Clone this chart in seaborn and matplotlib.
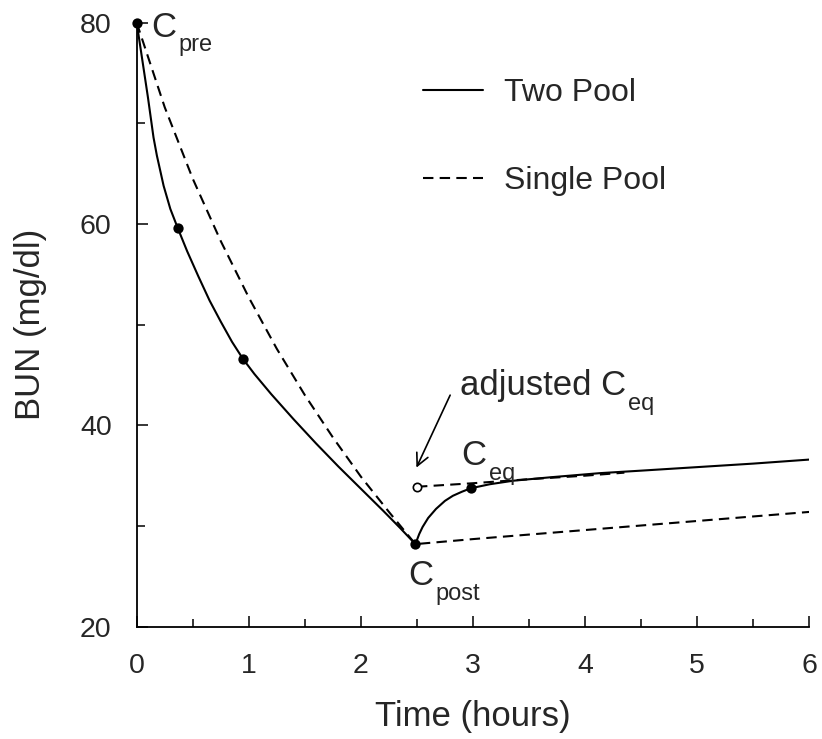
import matplotlib
matplotlib.use("Agg")
import matplotlib.pyplot as plt
import seaborn as sns
from matplotlib.lines import Line2D

# BUN durante e depois da diálise
two_pool_t = [0, 0.05, 0.10, 0.15, 0.18, 0.24, 0.30, 0.366, 0.45, 0.55, 0.65, 0.75, 0.85, 0.948,
              1.05, 1.2, 1.4, 1.6, 1.8, 2.0, 2.2, 2.35, 2.486,
              2.52, 2.55, 2.6, 2.67, 2.75, 2.82, 2.9, 2.98, 3.15, 3.36, 3.7, 4.13, 4.5, 5.0, 5.5, 6.0]
two_pool_bun = [80, 76.3, 72.6, 68.6, 66.8, 63.8, 61.5, 59.6, 57.3, 54.8, 52.4, 50.3, 48.3, 46.6,
                45.1, 43.1, 40.6, 38.2, 35.9, 33.7, 31.5, 29.8, 28.2,
                29.2, 29.9, 30.8, 31.7, 32.5, 33.0, 33.4, 33.75, 34.15, 34.5, 34.85, 35.25, 35.5, 35.85, 36.2, 36.6]

single_pool_t = [0, 0.25, 0.5, 0.75, 1.0, 1.25, 1.5, 1.75, 2.0, 2.25, 2.486,
                 3.0, 3.5, 4.0, 4.5, 5.0, 5.5, 6.0]
single_pool_bun = [80, 71.6, 64.5, 58.3, 52.7, 47.6, 43.0, 38.8, 34.9, 31.4, 28.2,
                   28.7, 29.15, 29.6, 30.05, 30.5, 30.95, 31.4]

adjusted_t = [2.5, 3.0, 3.5, 4.0, 4.35]
adjusted_bun = [33.9, 34.25, 34.65, 35.0, 35.3]

samples_t = [0, 0.366, 0.948, 2.486, 2.98]
samples_bun = [80, 59.6, 46.6, 28.2, 33.75]

adj_ceq_t = [2.5]
adj_ceq_bun = [33.9]

x_ticks = [0, 1, 2, 3, 4, 5, 6]
y_ticks = [20, 40, 60, 80]

sns.set_style("ticks")
plt.rcParams["font.family"] = ["Liberation Sans", "DejaVu Sans"]

dash = (0, (5, 3))

fig = plt.figure(figsize=(8.22, 7.39), dpi=100)
ax = fig.add_axes([0.1663, 0.152, 0.8183, 0.8173])

sns.lineplot(x=two_pool_t, y=two_pool_bun, ax=ax, color="k", lw=1.5, sort=False, estimator=None)
sns.lineplot(x=single_pool_t, y=single_pool_bun, ax=ax, color="k", lw=1.5, linestyle=dash,
             sort=False, estimator=None)
sns.lineplot(x=adjusted_t, y=adjusted_bun, ax=ax, color="k", lw=1.5, linestyle=dash,
             sort=False, estimator=None)

sns.scatterplot(x=samples_t, y=samples_bun, ax=ax, color="k", s=55, linewidth=0, zorder=5, clip_on=False)
sns.scatterplot(x=adj_ceq_t, y=adj_ceq_bun, ax=ax, color="white", edgecolor="k", s=36,
                linewidth=1.2, zorder=5)

ax.set_xlim(0, 6)
ax.set_ylim(20, 80)
ax.set_xticks(x_ticks)
ax.set_yticks(y_ticks)
ax.set_xticks([0.5, 1.5, 2.5, 3.5, 4.5, 5.5], minor=True)
ax.set_yticks([30, 50, 70], minor=True)
ax.tick_params(which="major", direction="in", length=8, width=1.1, color="k", labelsize=20.5)
ax.tick_params(which="minor", direction="in", length=5.5, width=1.1, color="k")
ax.tick_params(axis="x", which="major", pad=19)
ax.tick_params(axis="y", which="major", pad=18)
sns.despine(ax=ax)
for side in ["left", "bottom"]:
    ax.spines[side].set_linewidth(1.3)
    ax.spines[side].set_color("k")

ax.set_xlabel("Time (hours)", fontsize=25)
ax.set_ylabel("BUN (mg/dl)", fontsize=25)
ax.xaxis.set_label_coords(0.5, -0.1495)
ax.xaxis.label.set_va("center")
ax.yaxis.set_label_coords(-0.1586, 0.5)
ax.yaxis.label.set_va("center")

handles = [Line2D([], [], color="k", lw=1.5), Line2D([], [], color="k", lw=1.5, linestyle=dash)]
ax.legend(handles, ["Two Pool", "Single Pool"], loc="upper left", bbox_to_anchor=(0.425, 0.908),
          frameon=False, fontsize=23, handlelength=1.9, handletextpad=0.65, labelspacing=1.81,
          borderpad=0, borderaxespad=0)


def c_label(x, y, main, sub):
    t = ax.text(x, y, main, fontsize=25, va="baseline", ha="left")
    ax.annotate(sub, xy=(1, y), xycoords=(t, "data"), xytext=(1.5, -10.5),
                textcoords="offset points", fontsize=17, va="baseline", ha="left")


c_label(0.134, 78.6, "C", "pre")
c_label(2.899, 36.06, "C", "eq")
c_label(2.42, 24.14, "C", "post")
c_label(2.885, 43.0, "adjusted C", "eq")

ax.annotate("", xy=(2.495, 35.8), xytext=(2.796, 43.0),
            arrowprops=dict(arrowstyle="->", lw=1.2, color="k", mutation_scale=22,
                            shrinkA=0, shrinkB=0))

fig.savefig("out.png", dpi=100)
